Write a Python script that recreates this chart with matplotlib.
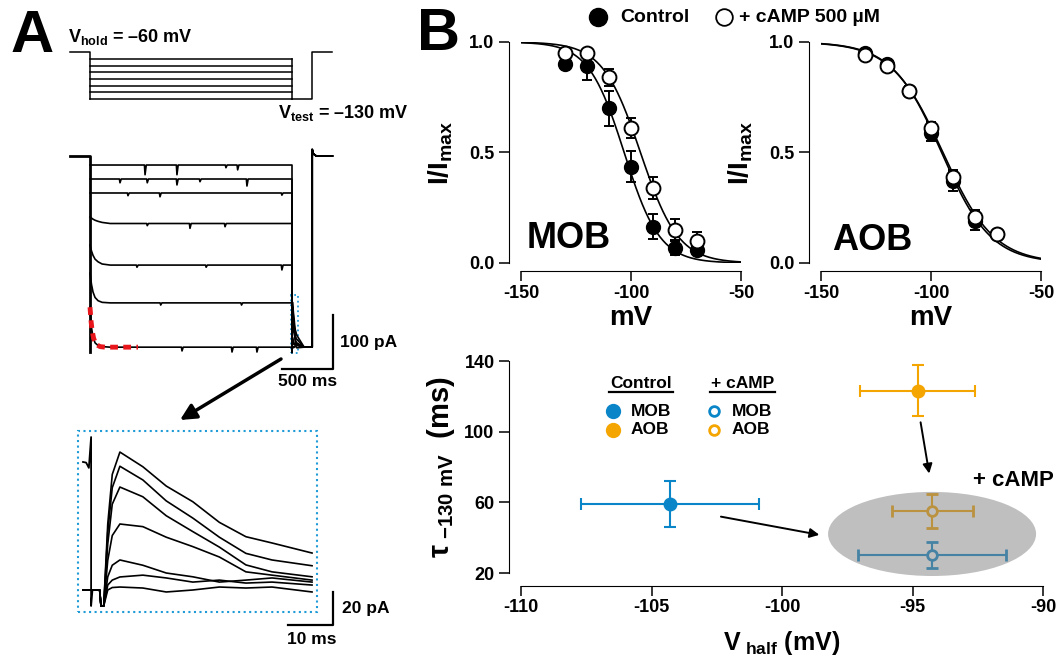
import numpy as np
import matplotlib
matplotlib.use('Agg')
import matplotlib.pyplot as plt
from matplotlib.patches import Ellipse, Rectangle

plt.rcParams['font.family'] = ['Liberation Sans', 'DejaVu Sans']
plt.rcParams['font.weight'] = 'bold'
plt.rcParams['axes.labelweight'] = 'bold'
plt.rcParams['axes.unicode_minus'] = False
plt.rcParams['mathtext.fontset'] = 'custom'
plt.rcParams['mathtext.rm'] = 'Liberation Sans:bold'
plt.rcParams['mathtext.bf'] = 'Liberation Sans:bold'
plt.rcParams['mathtext.it'] = 'Liberation Sans:bold'
plt.rcParams['mathtext.sf'] = 'Liberation Sans:bold'
plt.rcParams['mathtext.default'] = 'bf'

# ---------------- data ----------------
# A: voltage protocol (mV, ms)
step_mv = [-70, -80, -90, -100, -110, -120, -130]
hold_mv = -60
test_mv = -130
step_end = 2000
test_end = 2200
rec_start, rec_end = -200, 2400

# A: current traces during steps (pA)
act_t = [0, 15, 30, 50, 80, 120, 200]
act_I = [
    [-16.7, -16.7, -16.7, -16.7, -16.7, -16.7, -16.7],
    [-42.6, -42.6, -42.6, -42.6, -42.6, -42.6, -42.6],
    [-68.5, -68.5, -68.5, -68.5, -68.5, -68.5, -68.5],
    [-113, -115, -117, -119, -121, -123, -125],
    [-165, -176, -184, -191, -196, -200, -202],
    [-217, -238, -252, -262, -268, -271, -272],
    [-280, -318, -335, -346, -351, -353, -354],
]
# small downward glitches (time ms, depth pA)
glitches = [
    [(545, 18), (861, 18), (1346, 5), (1462, 9)],
    [(297, 7), (567, 7), (861, 11), (1089, 5), (1554, 13)],
    [(376, 5), (693, 7), (1900, 4)],
    [(567, 4), (990, 9), (1337, 6)],
    [(465, 4), (1150, 4), (1900, 9)],
    [(700, 4), (1500, 4)],
    [(911, 7), (1406, 9), (1653, 9)],
]
test_I = -354
cap_I = -363
# exponential fit of the -130 mV trace
fit_t = [0, 10, 20, 35, 50, 70, 100, 150, 250, 475]
fit_I = [-280, -305, -322, -337, -345, -350, -353, -354, -354, -354]

# A inset: tail currents (ms, pA)
tail_t = [-4, -0.3, 0, 0.6, 1.5, 2.5, 4.2, 9.3, 14.5, 20.4, 26.3, 32.2, 38, 46.9]
tail_I = [
    [0, 0, -9.7, -9.7, 40, 70, 83.6, 74.7, 63, 53.5, 41, 32.3, 28.5, 22.4],
    [0, 0, -9.7, -9.7, 35, 62, 75, 66.7, 54, 43.6, 32, 22.2, 18.2, 14.7],
    [0, 0, -9.7, -9.7, 28, 52, 62.4, 56.5, 45, 35.4, 26, 15.2, 11, 8],
    [0, 0, -9.7, -9.7, 18, 33, 40, 38.4, 32, 26.3, 20, 11, 9, 6],
    [0, 0, -9.7, -9.7, 8, 15, 18.2, 15, 10.3, 8, 4.8, 6, 7.3, 4.8],
    [0, 0, -9.7, -9.7, 3, 6, 7.9, 9, 7.3, 4.8, 6, 4.2, 4.8, 3],
    [0, 0, -9.7, -9.7, 0, 1.5, 1.8, 1.2, -1.2, 0, 1.8, 1.2, 1.8, -1.2],
]
pre_t = [-4.0, -3.3, -2.7, -2.2, -2.2, -1.9]
pre_I = [77.6, 77.2, 74.0, 92.7, -9.7, 0]

# B: activation curves
volt = [-130, -120, -110, -100, -90, -80, -70]
mob_ctrl = [0.90, 0.89, 0.70, 0.435, 0.165, 0.07, 0.06]
mob_ctrl_err = [0.02, 0.06, 0.08, 0.07, 0.055, 0.035, 0.02]
mob_camp = [0.95, 0.95, 0.84, 0.61, 0.34, 0.15, 0.10]
mob_camp_err = [0.02, 0.02, 0.04, 0.045, 0.05, 0.05, 0.04]
aob_ctrl = [0.95, 0.90, 0.78, 0.59, 0.37, 0.19, 0.13]
aob_ctrl_err = [0.02, 0.02, 0.02, 0.04, 0.045, 0.04, 0.02]
aob_camp = [0.94, 0.89, 0.78, 0.61, 0.39, 0.21, 0.13]
aob_camp_err = [0.02, 0.02, 0.02, 0.03, 0.03, 0.03, 0.02]
# Boltzmann fits (V1/2, slope)
mob_fit_ctrl = (-103.1, 8.1)
mob_fit_camp = (-95.7, 8.6)
aob_fit_ctrl = (-95.2, 11.2)
aob_fit_camp = (-94.6, 11.6)

# B bottom: tau vs V1/2 (MOB, AOB)
vh_ctrl = [-104.3, -94.8]
vh_ctrl_err = [3.4, 2.2]
tau_ctrl = [58.8, 123.1]
tau_ctrl_err = [13.0, 14.5]
vh_camp = [-94.25, -94.25]
vh_camp_err = [2.83, 1.55]
tau_camp = [30.3, 55.0]
tau_camp_err = [7.2, 9.5]
region_names = ['MOB', 'AOB']
region_colors = ['#0a86c8', '#f5a500']

# ---------------- figure ----------------
W, H = 1059, 657
fig = plt.figure(figsize=(W / 100, H / 100), dpi=100)


def box(x0, y0, x1, y1):
    return fig.add_axes([x0 / W, 1 - y1 / H, (x1 - x0) / W, (y1 - y0) / H])


# pixel mapping used for panel A
ms_px = 202 / 2000.0


def t_of(px):
    return (px - 90) / ms_px


def v_of(py):
    return -60 - (py - 52.4) / 0.6657


def i_of(py):
    return -(py - 156) / 0.54


# --- A: protocol
ax_v = box(55, 30, 345, 112)
ax_v.set_xlim(t_of(55), t_of(345))
ax_v.set_ylim(v_of(112), v_of(30))
ax_v.axis('off')
for v in step_mv:
    ax_v.plot([0, step_end], [v, v], color='k', lw=1.1)
ax_v.plot([rec_start, 0, 0], [hold_mv, hold_mv, test_mv], color='k', lw=1.1)
ax_v.plot([step_end, step_end], [max(step_mv), test_mv], color='k', lw=1.1)
ax_v.plot([step_end, test_end, test_end, rec_end], [test_mv, test_mv, hold_mv, hold_mv], color='k', lw=1.1)
ax_v.text(t_of(68), v_of(42), r'$\mathbf{V_{hold}}$ = –60 mV', fontsize=13, va='baseline', ha='left')
ax_v.text(t_of(278), v_of(118), r'$\mathbf{V_{test}}$ = –130 mV', fontsize=13, va='baseline', ha='left')

# --- A: current traces
ax_i = box(55, 130, 400, 400)
ax_i.set_xlim(t_of(55), t_of(400))
ax_i.set_ylim(i_of(400), i_of(130))
ax_i.axis('off')
ax_i.plot([rec_start, 0, 0], [0, 0, cap_I], color='k', lw=2.0)
for k in range(len(step_mv)):
    lvl = act_I[k][-1]
    pts = list(zip(act_t, act_I[k]))
    for g, d in glitches[k]:
        pts += [(g - 6, lvl), (g, lvl - d), (g + 12, lvl)]
    pts.sort()
    pts += [(step_end, lvl), (step_end, cap_I)]
    pts += [(step_end + tt, test_I + ii) for tt, ii in zip(tail_t[3:], tail_I[k][3:])]
    pts += [(step_end + 120, test_I), (test_end, test_I), (test_end, 12),
            (test_end + 12, 4), (test_end + 40, 0), (rec_end, 0)]
    tt, ii = zip(*pts)
    ax_i.plot(tt, ii, color='k', lw=1.2)
ax_i.plot(fit_t, fit_I, color='#e8151b', lw=3.5, dashes=(1.6, 1.1), zorder=5)
ax_i.add_patch(Rectangle((1990, -365), 69, 108, fill=False, ec='#1f9bd7', ls=':', lw=1.3))
ax_i.plot([t_of(282), t_of(333), t_of(333)], [i_of(369), i_of(369), i_of(315)], color='k', lw=1.6)
ax_i.text(t_of(340), i_of(343), '100 pA', fontsize=12.5, ha='left', va='center')
ax_i.text(t_of(308), i_of(382), '500 ms', fontsize=12.5, ha='center', va='center')

# --- A: inset
def ti_of(px):
    return (px - 101) / 4.5


def ii_of(py):
    return (590 - py) / 1.65


ax_n = box(65, 425, 400, 650)
ax_n.set_xlim(ti_of(65), ti_of(400))
ax_n.set_ylim(ii_of(650), ii_of(425))
ax_n.axis('off')
ax_n.plot(pre_t, pre_I, color='k', lw=1.3)
for k in range(len(tail_I)):
    ax_n.plot(tail_t, tail_I[k], color='k', lw=1.2)
ax_n.add_patch(Rectangle((ti_of(78), ii_of(612)), ti_of(317) - ti_of(78), ii_of(431) - ii_of(612),
                         fill=False, ec='#1f9bd7', ls=':', lw=1.5))
ax_n.plot([ti_of(288), ti_of(333), ti_of(333)], [ii_of(625), ii_of(625), ii_of(592)], color='k', lw=1.6)
ax_n.text(ti_of(342), ii_of(609), '20 pA', fontsize=12.5, ha='left', va='center')
ax_n.text(ti_of(312), ii_of(639), '10 ms', fontsize=12.5, ha='center', va='center')


# --- B: activation curves
def boltz(v, vh, k):
    return 1.0 / (1.0 + np.exp((v - vh) / k))


vv = np.linspace(-150, -50, 300)


def style_iv(ax, label_x):
    ax.set_xlim(-150, -50)
    ax.set_ylim(0, 1)
    for s in ['top', 'right']:
        ax.spines[s].set_visible(False)
    ax.spines['left'].set_position(('outward', 9))
    ax.spines['bottom'].set_position(('outward', 6))
    ax.spines['left'].set_bounds(0, 1)
    ax.spines['bottom'].set_bounds(-150, -50)
    ax.set_xticks([-150, -100, -50])
    ax.set_yticks([0, 0.5, 1.0])
    ax.set_yticklabels(['0.0', '0.5', '1.0'])
    ax.tick_params(labelsize=13, length=7, width=1.1, pad=3)
    ax.set_xlabel('mV', fontsize=20)
    ax.set_ylabel(r'$\mathbf{I/I_{max}}$', fontsize=20)
    ax.xaxis.set_label_coords(0.5, -0.19)
    ax.yaxis.set_label_coords(label_x, 0.5)
    ax.patch.set_alpha(0)


panels = [
    (box(521, 42, 741, 263), mob_ctrl, mob_ctrl_err, mob_camp, mob_camp_err, mob_fit_ctrl, mob_fit_camp, 'MOB', -147.3, 0.068),
    (box(821, 42, 1041, 263), aob_ctrl, aob_ctrl_err, aob_camp, aob_camp_err, aob_fit_ctrl, aob_fit_camp, 'AOB', -145.0, 0.059),
]
for ax, c, ce, a, ae, fc, fa, name, tx, ty in panels:
    style_iv(ax, -0.30)
    ax.plot(vv, boltz(vv, *fc), color='k', lw=1.2, zorder=2)
    ax.plot(vv, boltz(vv, *fa), color='k', lw=1.2, zorder=2)
    ax.errorbar(volt, c, yerr=ce, fmt='o', ms=10, mfc='k', mec='k', ecolor='k',
                elinewidth=1.4, capsize=3.5, capthick=1.4, zorder=3, clip_on=False)
    ax.errorbar(volt, a, yerr=ae, fmt='o', ms=10, mfc='white', mec='k', mew=1.4, ecolor='k',
                elinewidth=1.4, capsize=3.5, capthick=1.4, zorder=4, clip_on=False)
    ax.text(tx, ty, name, fontsize=26, ha='left', va='baseline')

# --- B: tau vs V1/2
ax_t = box(521, 361, 1043, 573)
ax_t.set_xlim(-110, -90)
ax_t.set_ylim(20, 140)
for s in ['top', 'right']:
    ax_t.spines[s].set_visible(False)
ax_t.spines['left'].set_position(('outward', 9))
ax_t.spines['bottom'].set_position(('outward', 9))
ax_t.spines['left'].set_bounds(20, 140)
ax_t.spines['bottom'].set_bounds(-110, -90)
ax_t.set_xticks([-110, -105, -100, -95, -90])
ax_t.set_yticks([20, 60, 100, 140])
ax_t.tick_params(labelsize=13, length=7, width=1.1, pad=3)
ax_t.set_xlabel(r'$\mathbf{V_{\ half}}$ (mV)', fontsize=18)
ax_t.set_ylabel(r'$\mathbf{\tau_{\ {-}130\ mV}}$  (ms)', fontsize=21)
ax_t.xaxis.set_label_coords(0.5, -0.262)
ax_t.yaxis.set_label_coords(-0.123, 0.5)
ax_t.patch.set_alpha(0)

for i in range(2):
    ax_t.errorbar(vh_ctrl[i], tau_ctrl[i], xerr=vh_ctrl_err[i], yerr=tau_ctrl_err[i], fmt='o',
                  ms=9, color=region_colors[i], elinewidth=1.5, capsize=4, capthick=1.5, zorder=3)
    ax_t.errorbar(vh_camp[i], tau_camp[i], xerr=vh_camp_err[i], yerr=tau_camp_err[i], fmt='o',
                  ms=7, mfc='white', mec=region_colors[i], mew=2, color=region_colors[i],
                  elinewidth=1.5, capsize=4, capthick=1.5, zorder=3)
ax_t.add_patch(Ellipse((-94.25, 42.1), 7.97, 47.6, fc='#808080', ec='none', alpha=0.5, zorder=4, clip_on=False))
ax_t.text(-92.68, 72.6, '+ cAMP', fontsize=16, ha='left', va='center')

arrow_kw = dict(arrowstyle='-|>', color='k', lw=1.4, mutation_scale=14, shrinkA=0, shrinkB=0)
ax_t.annotate('', xy=(-98.57, 41.6), xytext=(-102.34, 51.9), arrowprops=arrow_kw)
ax_t.annotate('', xy=(-94.36, 76.3), xytext=(-94.69, 105.3), arrowprops=arrow_kw)

# legend inside tau panel
tr = ax_t.transAxes
for cx, head, mfc_open in [(0.176, 'Control', False), (0.370, '+ cAMP', True)]:
    hx = cx + 0.054
    ax_t.text(hx, 0.896, head, transform=tr, fontsize=12.5, ha='center', va='center')
    ax_t.plot([hx - 0.062, hx + 0.062], [0.854, 0.854], transform=tr, color='k', lw=1.6, clip_on=False)
    for j, yy in enumerate([0.764, 0.675]):
        col = region_colors[j]
        ax_t.plot([cx], [yy], 'o', transform=tr, ms=9 if not mfc_open else 7,
                  mfc='white' if mfc_open else col, mec=col, mew=2, clip_on=False)
        ax_t.text(cx + 0.034, yy, region_names[j], transform=tr, fontsize=12.5, ha='left', va='center')

# --- overlay: panel letters, top legend, arrow
ov = fig.add_axes([0, 0, 1, 1])
ov.set_xlim(0, W)
ov.set_ylim(H, 0)
ov.axis('off')
ov.patch.set_alpha(0)
ov.text(11, 52, 'A', fontsize=43, ha='left', va='baseline')
ov.text(417, 50, 'B', fontsize=43, ha='left', va='baseline')
ov.plot([598], [17], 'o', ms=13, mfc='k', mec='k')
ov.text(620, 17, 'Control', fontsize=14, ha='left', va='center')
ov.plot([724], [17], 'o', ms=12, mfc='white', mec='k', mew=1.3)
ov.text(739, 17, '+ cAMP 500 µM', fontsize=14, ha='left', va='center')
ov.annotate('', xy=(180, 420), xytext=(281, 359),
            arrowprops=dict(arrowstyle='-|>', color='k', lw=2.5, mutation_scale=24, shrinkA=0, shrinkB=0))

fig.savefig('out.png', dpi=100)
